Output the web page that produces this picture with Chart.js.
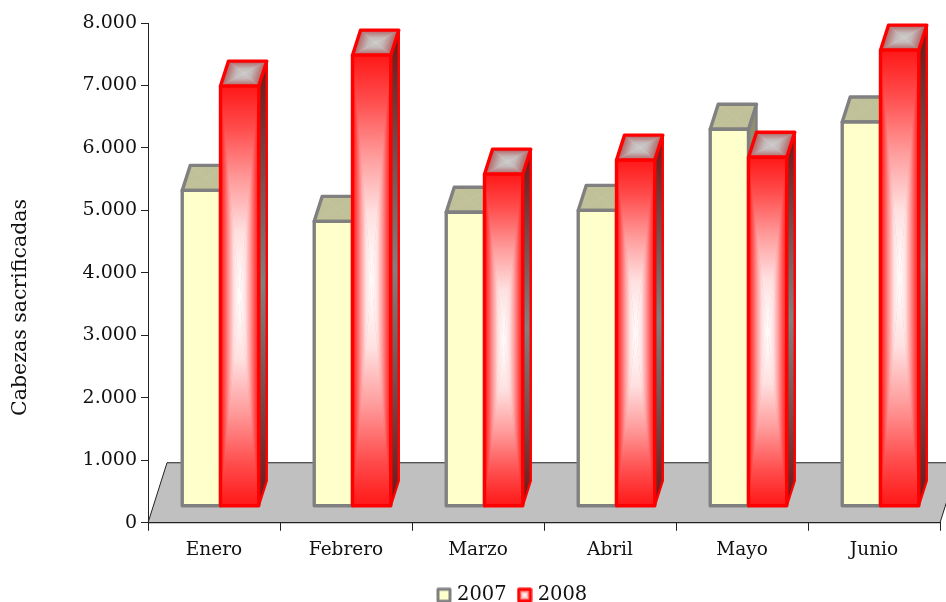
<!DOCTYPE html>
<html>
<head>
<meta charset="utf-8">
<title>Cabezas sacrificadas</title>
<script src="https://cdn.jsdelivr.net/npm/chart.js@4"></script>
<style>
    html, body { margin: 0; padding: 0; background: #fff; overflow: hidden; }
    canvas { display: block; }
</style>
</head>
<body>
<canvas id="chart" width="946" height="602"></canvas>
<script>
const months = ['Enero', 'Febrero', 'Marzo', 'Abril', 'Mayo', 'Junio'];
const values2007 = [5320, 4825, 4970, 5000, 6300, 6415];
const values2008 = [6990, 7485, 5580, 5805, 5850, 7565];
const yTickLabels = ['0', '1.000', '2.000', '3.000', '4.000', '5.000', '6.000', '7.000', '8.000'];
const yTitle = 'Cabezas sacrificadas';

const FONT = '"DejaVu Serif", serif';
const BAR_DX = 8, BAR_DY = 25;
const FLOOR_DX = 19, FLOOR_DY = 60;
const BAR_SHIFT = 6.5;
const BAR_LINE = 3.4;

// rectangular "path" gradient: one triangle per edge, each fading from the edge to the middle
const fillPathGradient = (ctx, pts, stops) => {
    const cx = (pts[0][0] + pts[2][0]) / 2;
    const cy = (pts[0][1] + pts[2][1]) / 2;
    for (let i = 0; i < pts.length; i++) {
        const a = pts[i];
        const b = pts[(i + 1) % pts.length];
        const ex = b[0] - a[0], ey = b[1] - a[1];
        const t = ((cx - a[0]) * ex + (cy - a[1]) * ey) / (ex * ex + ey * ey);
        const g = ctx.createLinearGradient(a[0] + t * ex, a[1] + t * ey, cx, cy);
        stops.forEach(s => g.addColorStop(s[0], s[1]));
        ctx.fillStyle = g;
        ctx.strokeStyle = g;
        ctx.lineWidth = 0.6;
        ctx.beginPath();
        ctx.moveTo(a[0], a[1]);
        ctx.lineTo(b[0], b[1]);
        ctx.lineTo(cx, cy);
        ctx.closePath();
        ctx.fill();
        ctx.stroke();
    }
};

const strokePoly = (ctx, pts, color, width) => {
    ctx.strokeStyle = color;
    ctx.lineWidth = width;
    ctx.lineJoin = 'round';
    ctx.beginPath();
    pts.forEach((p, i) => i ? ctx.lineTo(p[0], p[1]) : ctx.moveTo(p[0], p[1]));
    ctx.closePath();
    ctx.stroke();
};

const drawBar3d = (ctx, bar, style) => {
    const x0 = bar.x - bar.width / 2, x1 = bar.x + bar.width / 2;
    const y0 = bar.y, y1 = bar.base;

    const side = [[x1, y0], [x1 + BAR_DX, y0 - BAR_DY], [x1 + BAR_DX, y1 - BAR_DY], [x1, y1]];
    const g = ctx.createLinearGradient(0, y0 - BAR_DY, 0, y1);
    g.addColorStop(0, style.sideEdge);
    g.addColorStop(0.5, style.sideMid);
    g.addColorStop(1, style.sideEdge);
    ctx.fillStyle = g;
    ctx.beginPath();
    side.forEach((p, i) => i ? ctx.lineTo(p[0], p[1]) : ctx.moveTo(p[0], p[1]));
    ctx.closePath();
    ctx.fill();
    strokePoly(ctx, side, style.line, 2.4);

    const top = [[x0, y0], [x0 + BAR_DX, y0 - BAR_DY], [x1 + BAR_DX, y0 - BAR_DY], [x1, y0]];
    fillPathGradient(ctx, top, style.top);
    strokePoly(ctx, top, style.line, BAR_LINE);

    const front = [[x0, y0], [x1, y0], [x1, y1], [x0, y1]];
    fillPathGradient(ctx, front, style.front);
    strokePoly(ctx, front, style.line, BAR_LINE);
};

const styles = [
    {
        line: '#808080',
        front: [[0, '#FFFFCC'], [1, '#FFFFCC']],
        top: [[0, '#C0C099'], [1, '#C0C099']],
        sideEdge: '#8F8F70', sideMid: '#8F8F70'
    },
    {
        line: '#FF0000',
        front: [[0, '#FF1818'], [0.2, '#FF4C4C'], [0.45, '#FF9C9C'], [0.7, '#FFE0E0'], [1, '#FFFFFF']],
        top: [[0, '#B06060'], [0.6, '#C4B8B8'], [1, '#CCCCCC']],
        sideEdge: '#701515', sideMid: '#808080'
    }
];

const makeSwatch = (style) => {
    const c = document.createElement('canvas');
    c.width = 16;
    c.height = 16;
    const ctx = c.getContext('2d');
    const pts = [[2, 2], [14, 2], [14, 14], [2, 14]];
    fillPathGradient(ctx, pts, style.front);
    strokePoly(ctx, pts, style.line, 3);
    return c;
};

const bars3dPlugin = {
    id: 'bars3d',
    beforeDraw(chart) {
        const { ctx, chartArea } = chart;
        ctx.save();
        ctx.fillStyle = '#C0C0C0';
        ctx.strokeStyle = '#222';
        ctx.lineWidth = 1;
        ctx.beginPath();
        ctx.moveTo(chartArea.left, chartArea.bottom);
        ctx.lineTo(chartArea.left + FLOOR_DX, chartArea.bottom - FLOOR_DY);
        ctx.lineTo(chartArea.right + FLOOR_DX, chartArea.bottom - FLOOR_DY);
        ctx.lineTo(chartArea.right, chartArea.bottom);
        ctx.closePath();
        ctx.fill();
        ctx.stroke();
        ctx.restore();
    },
    afterLayout(chart) {
        // the legend sits right of centre in the original
        chart.legend.left += 44;
        chart.legend.right += 44;
        chart.legend.top -= 17;
        chart.legend.bottom -= 17;
    },
    beforeDatasetsDraw(chart) {
        chart.ctx.save();
        chart.ctx.translate(BAR_SHIFT, 0);
    },
    afterDatasetsDraw(chart) {
        const ctx = chart.ctx;
        chart.data.datasets.forEach((ds, i) => {
            chart.getDatasetMeta(i).data.forEach(bar => drawBar3d(ctx, bar, styles[i]));
        });
        ctx.restore();
    },
    afterDraw(chart) {
        // y title is not centred on the axis in the original, so it is placed by hand
        const ctx = chart.ctx;
        ctx.save();
        ctx.translate(21, 307.5);
        ctx.rotate(-Math.PI / 2);
        ctx.font = '20.5px ' + FONT;
        ctx.fillStyle = '#111';
        ctx.textAlign = 'center';
        ctx.textBaseline = 'middle';
        ctx.fillText(yTitle, 0, 0);
        ctx.restore();
    }
};

new Chart(document.getElementById('chart'), {
    type: 'bar',
    plugins: [bars3dPlugin],
    data: {
        labels: months,
        datasets: [
            { label: '2007', data: values2007, backgroundColor: '#FFFFCC', base: 272 },
            { label: '2008', data: values2008, backgroundColor: '#FF0000', base: 272 }
        ]
    },
    options: {
        responsive: false,
        animation: false,
        layout: { padding: { top: 23, right: 6, left: 0, bottom: -30 } },
        datasets: { bar: { barPercentage: 1, categoryPercentage: 0.58, borderWidth: 0 } },
        scales: {
            x: {
                afterFit: (scale) => { scale.height = 65; },
                border: { color: '#222' },
                grid: { drawOnChartArea: false, tickLength: 8, tickColor: '#222' },
                ticks: { color: '#111', padding: 8, maxRotation: 0, font: { family: FONT, size: 18.5 } }
            },
            y: {
                min: 0,
                max: 8000,
                afterFit: (scale) => { scale.width = 148; },
                border: { color: '#222' },
                grid: { drawOnChartArea: false, tickLength: 7, tickColor: '#222' },
                ticks: {
                    stepSize: 1000,
                    color: '#111',
                    padding: 4,
                    font: { family: FONT, size: 19 },
                    callback: (value) => yTickLabels[value / 1000]
                }
            }
        },
        plugins: {
            tooltip: { enabled: false },
            legend: {
                position: 'bottom',
                labels: {
                    color: '#111',
                    padding: 14.75,
                    usePointStyle: true,
                    pointStyleWidth: 6.5,
                    font: { family: FONT, size: 19.5 },
                    generateLabels: (chart) => chart.data.datasets.map((ds, i) => ({
                        text: ds.label,
                        datasetIndex: i,
                        pointStyle: makeSwatch(styles[i]),
                        fontColor: '#111'
                    }))
                }
            }
        }
    }
});
</script>
</body>
</html>
